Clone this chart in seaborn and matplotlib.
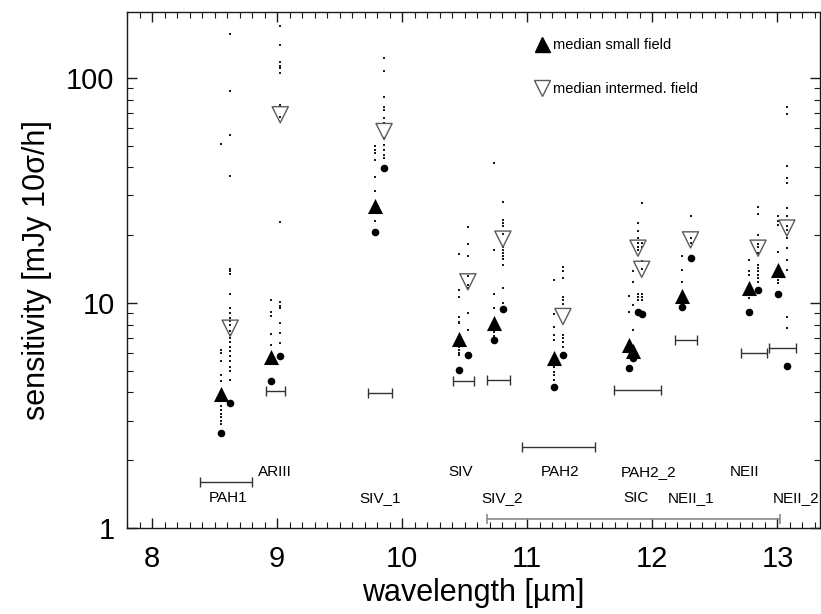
import numpy as np
import pandas as pd
import matplotlib
matplotlib.use("Agg")
import matplotlib.pyplot as plt
import seaborn as sns
from matplotlib.ticker import FixedLocator, MultipleLocator, NullFormatter, FuncFormatter
from matplotlib.lines import Line2D

# ---------------- data ----------------
filters = ["PAH1", "ARIII", "SIV_1", "SIV", "SIV_2", "PAH2", "SIC", "PAH2_2", "NEII_1", "NEII", "NEII_2"]
wavelength = [8.59, 8.99, 9.82, 10.49, 10.77, 11.25, 11.85, 11.88, 12.27, 12.81, 13.04]
bandwidth = [0.42, 0.15, 0.19, 0.165, 0.19, 0.59, 2.34, 0.37, 0.18, 0.21, 0.22]
bar_level = [1.6, 4.07, 3.99, 4.5, 4.55, 2.28, 1.10, 4.1, 6.85, 6.0, 6.28]

median_small = [3.95, 5.74, 27.0, 6.9, 8.13, 5.68, 6.5, 6.1, 10.7, 11.6, 14.0]
median_interm = [7.72, 68.5, 57.7, 12.4, 19.2, 8.7, 17.5, 14.1, 19.05, 17.5, 21.5]
best_small = [2.65, 4.5, 20.7, 5.04, 6.85, 4.25, 5.12, 5.68, 9.63, 9.15, 10.9]
best_interm = [3.58, 5.81, 39.7, 5.89, 9.38, 5.87, 9.15, 8.93, 15.8, 11.4, 5.25]

# individual measurements (small field / intermediate field)
pah1_small = [50.9, 6.2, 6.0, 5.5, 4.8, 4.5, 3.5, 3.35, 3.2, 3.1, 3.0, 2.9]
pah1_interm = [157, 87.8, 55.8, 36.7, 14.1, 13.8, 13.5, 11.0, 9.5, 9.0, 8.6, 8.3, 8.0, 7.5,
               7.2, 7.0, 6.7, 6.4, 6.1, 5.8, 5.5, 5.2, 5.0, 4.55]
ariii_small = [10.3, 9.1, 8.75, 7.3, 6.5]
ariii_interm = [169, 140, 117, 113, 110, 105, 75.8, 67.3, 22.8, 10.1, 9.7, 9.5, 8.1, 7.35, 6.66]
siv1_small = [49.9, 47.9, 46.3, 43.2, 36.4, 31.5, 23.0]
siv1_interm = [122, 107, 82, 73.8, 71.6, 66.3, 62.9, 54, 50.4, 47.9, 45.5, 44]
siv_small = [16.5, 11.4, 10.6, 8.7, 8.26, 8.13, 6.4, 6.2, 6.0, 5.87]
siv_interm = [21.7, 18.2, 16.1, 13.2, 12.0, 11.6, 9.06, 7.59]
siv2_small = [42, 17.2, 10.9, 9.47, 7.46, 7.1]
siv2_interm = [28.2, 23.4, 22.7, 22.0, 20.3, 17.8, 17.2, 16.6, 16.1, 15.6, 14.8, 11.6, 9.97]
pah2_small = [12.7, 8.93, 7.8, 7.2, 6.85, 5.21, 4.95, 4.78, 4.55]
pah2_interm = [14.4, 13.9, 12.9, 10.6, 10.3, 9.9, 7.2, 6.97, 6.73, 6.4]
sic_small = [10.7, 9.15]
sic_interm = [22.6, 20.8, 19.5, 18.4, 17.8, 17.2, 10.9, 10.6, 10.3]
pah22_small = [13.8, 12.4, 9.8, 7.59]
pah22_interm = [27.9, 18.4, 17.8, 15.3, 14.2, 10.9, 10.6, 10.3]
neii1_small = [16.1, 14.0, 12.4]
neii1_interm = [24.2, 19.4, 18.4]
neii_small = [15.5, 13.8, 13.3, 10.5]
neii_interm = [26.8, 24.9, 20.1, 18.3, 17.8, 16.6, 14.8, 14.3, 13.8, 13.3, 12.9, 12.4]
neii2_small = [24.2, 23.0, 22.2, 16.9, 12.7, 12.3]
neii2_interm = [74.1, 69.2, 40.6, 35.8, 34.0, 26.4, 24.2, 22.0, 21.1, 20.1, 19.4, 17.5,
                15.5, 14.0, 8.7, 7.72]

dots_small = [pah1_small, ariii_small, siv1_small, siv_small, siv2_small, pah2_small,
              sic_small, pah22_small, neii1_small, neii_small, neii2_small]
dots_interm = [pah1_interm, ariii_interm, siv1_interm, siv_interm, siv2_interm, pah2_interm,
               sic_interm, pah22_interm, neii1_interm, neii_interm, neii2_interm]

# filter label placement (layout)
label_x = [8.605, 8.98, 9.826, 10.465, 10.80, 11.26, 11.87, 11.97, 12.31, 12.74, 13.15]
label_upper = [False, True, False, True, False, True, False, True, False, True, False]

# ---------------- build tables ----------------
off = 0.035
rows = []
for f, wl, ds, di in zip(filters, wavelength, dots_small, dots_interm):
    for v in ds:
        rows.append({"filter": f, "wl": wl - off, "sens": v, "field": "small"})
    for v in di:
        rows.append({"filter": f, "wl": wl + off, "sens": v, "field": "intermed"})
dots = pd.DataFrame(rows)

med = pd.DataFrame({"filter": filters, "wl": wavelength,
                    "small": median_small, "interm": median_interm,
                    "best_small": best_small, "best_interm": best_interm,
                    "bw": bandwidth, "bar": bar_level})
med["wl_s"] = med["wl"] - off
med["wl_i"] = med["wl"] + off

# ---------------- figure ----------------
sns.set_theme(style="ticks")
plt.rcParams["font.family"] = ["Liberation Sans", "DejaVu Sans"]
plt.rcParams.update({
    "axes.linewidth": 1.0,
    "text.color": "black",
    "axes.labelcolor": "black",
    "xtick.color": "black",
    "ytick.color": "black",
    "axes.edgecolor": "#1a1a1a",
})

fig = plt.figure(figsize=(8.21, 6.14), dpi=100)
ax = fig.add_axes([127 / 821, 86 / 614, 693 / 821, 516 / 614])
ax.set_yscale("log")

# filter bandwidth bars
narrow = med[med["filter"] != "SIC"]
ax.errorbar(narrow["wl"], narrow["bar"], xerr=narrow["bw"] / 2, fmt="none",
            ecolor="#333333", elinewidth=1.0, capsize=3.6, capthick=1.0)
wide = med[med["filter"] == "SIC"]
ax.errorbar(wide["wl"], wide["bar"], xerr=wide["bw"] / 2, fmt="none",
            ecolor="#8a8a8a", elinewidth=1.2, capsize=3.6, capthick=1.2)

# individual measurements
sns.scatterplot(data=dots, x="wl", y="sens", marker="s", s=4.0, color="#1a1a1a",
                linewidth=0, ax=ax, legend=False, zorder=3)

# medians
sns.scatterplot(data=med, x="wl_i", y="interm", marker="v", s=135,
                facecolors="none", edgecolor="#5a5a5a", linewidth=1.0, ax=ax,
                legend=False, zorder=4)
sns.scatterplot(data=med, x="wl_s", y="small", marker="^", s=118, color="black",
                linewidth=0, ax=ax, legend=False, zorder=5)
sns.scatterplot(data=med, x="wl_s", y="best_small", marker="o", s=30, color="black",
                linewidth=0, ax=ax, legend=False, zorder=5)
sns.scatterplot(data=med, x="wl_i", y="best_interm", marker="o", s=30, color="black",
                linewidth=0, ax=ax, legend=False, zorder=5)

# filter labels
for f, lx, up in zip(filters, label_x, label_upper):
    ax.text(lx, 1.775 if up else 1.364, f, ha="center", va="center",
            fontsize=11, color="black")

# axes
ax.set_xlim(7.8, 13.34)
ax.set_ylim(1, 196)
ax.xaxis.set_major_locator(MultipleLocator(1))
ax.xaxis.set_minor_locator(MultipleLocator(0.1))
ax.yaxis.set_major_locator(FixedLocator([1, 10, 100]))
ax.yaxis.set_minor_locator(FixedLocator([m * 10 ** e for e in range(0, 3) for m in range(2, 10)]))
ax.yaxis.set_major_formatter(FuncFormatter(lambda v, p: f"{v:g}"))
ax.yaxis.set_minor_formatter(NullFormatter())
ax.xaxis.set_major_formatter(FuncFormatter(lambda v, p: f"{v:g}"))
ax.tick_params(which="both", direction="in", top=True, right=True, color="#1a1a1a")
ax.tick_params(which="major", length=7.5, width=1.0, labelsize=21, pad=9)
ax.tick_params(which="minor", length=4, width=0.8)
ax.tick_params(axis="x", which="major", pad=12)

ax.set_xlabel("wavelength [µm]", fontsize=22, labelpad=4)
ax.set_ylabel("sensitivity [mJy 10σ/h]", fontsize=22, labelpad=10)

# legend
handles = [
    Line2D([], [], marker="^", linestyle="none", color="black", markersize=10.8),
    Line2D([], [], marker="v", linestyle="none", markerfacecolor="none",
           markeredgecolor="#5a5a5a", markersize=11.5, markeredgewidth=1.0),
]
ax.legend(handles, ["median small field", "median intermed. field"],
          loc="upper left", bbox_to_anchor=(0.588, 0.95), frameon=False,
          fontsize=10.5, handlelength=1.0, handletextpad=0.3, labelspacing=2.05,
          borderpad=0, borderaxespad=0)

fig.savefig("out.png", dpi=100)
